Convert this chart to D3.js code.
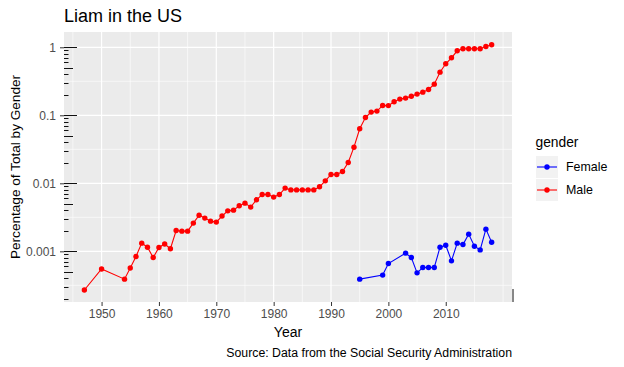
<!DOCTYPE html>
<html>
<head>
<meta charset="utf-8">
<script src="https://cdn.jsdelivr.net/npm/d3@7"></script>
<style>
  html, body { margin: 0; padding: 0; background: #fff; }
  svg { display: block; font-family: "Liberation Sans", Arial, sans-serif; }
</style>
</head>
<body>
<svg id="chart" width="624" height="367"></svg>
<script>
// ---- data ----
const maleYears = [1947,1950,1954,1955,1956,1957,1958,1959,1960,1961,1962,1963,1964,1965,1966,1967,1968,1969,1970,1971,1972,1973,1974,1975,1976,1977,1978,1979,1980,1981,1982,1983,1984,1985,1986,1987,1988,1989,1990,1991,1992,1993,1994,1995,1996,1997,1998,1999,2000,2001,2002,2003,2004,2005,2006,2007,2008,2009,2010,2011,2012,2013,2014,2015,2016,2017,2018];
const maleValues = [0.00027,0.00055,0.00039,0.00057,0.00084,0.00132,0.00115,0.00081,0.00114,0.00128,0.00109,0.00202,0.00198,0.00198,0.0026,0.0034,0.00308,0.00278,0.00269,0.0033,0.00394,0.00403,0.00467,0.00511,0.00447,0.00572,0.00684,0.00684,0.00627,0.00684,0.0085,0.0080,0.0080,0.0080,0.0080,0.0080,0.00889,0.01088,0.0135,0.0135,0.0149,0.0202,0.034,0.0633,0.0929,0.1114,0.1153,0.1394,0.139,0.158,0.173,0.179,0.191,0.205,0.219,0.24,0.287,0.431,0.572,0.701,0.889,0.95,0.95,0.95,0.95,1.03,1.09];
const femaleYears = [1995,1999,2000,2003,2004,2005,2006,2007,2008,2009,2010,2011,2012,2013,2014,2015,2016,2017,2018];
const femaleValues = [0.00039,0.000447,0.000662,0.00094,0.00081,0.000483,0.000578,0.000578,0.000578,0.00115,0.00123,0.000725,0.00132,0.00126,0.00179,0.00119,0.00105,0.00212,0.00136];
const genders = ["Female", "Male"];
const genderColors = ["#0000FF", "#FF0000"];
const xTicks = [1950,1960,1970,1980,1990,2000,2010];
const xMinor = [1945,1955,1965,1975,1985,1995,2005,2015,2020];
const yTicks = [1, 0.1, 0.01, 0.001];
const yTickLabels = ["1", "0.1", "0.01", "0.001"];
const yMinor = [Math.pow(10,-0.5), Math.pow(10,-1.5), Math.pow(10,-2.5), Math.pow(10,-3.5)];
const titleText = "Liam in the US";
const xTitle = "Year";
const yTitle = "Percentage of Total by Gender";
const captionText = "Source: Data from the Social Security Administration";
const legendTitle = "gender";

// ---- layout ----
const P = {l: 64, r: 512, t: 32, b: 302};
const svg = d3.select("#chart");

const x = d3.scaleLinear().domain([1943.45, 2021.55]).range([P.l, P.r]);
const y = d3.scaleLog().domain([Math.pow(10,-3.745), Math.pow(10,0.225)]).range([P.b, P.t]);

// panel background
svg.append("rect").attr("x", P.l).attr("y", P.t).attr("width", P.r - P.l).attr("height", P.b - P.t).attr("fill", "#EBEBEB");

const grid = svg.append("g");
// minor grid
grid.selectAll(".xm").data(xMinor).enter().append("line")
  .attr("x1", d => x(d)).attr("x2", d => x(d)).attr("y1", P.t).attr("y2", P.b)
  .attr("stroke", "#fff").attr("stroke-width", 0.6);
grid.selectAll(".ym").data(yMinor).enter().append("line")
  .attr("y1", d => y(d)).attr("y2", d => y(d)).attr("x1", P.l).attr("x2", P.r)
  .attr("stroke", "#fff").attr("stroke-width", 0.6);
// major grid
grid.selectAll(".xM").data(xTicks).enter().append("line")
  .attr("x1", d => x(d)).attr("x2", d => x(d)).attr("y1", P.t).attr("y2", P.b)
  .attr("stroke", "#fff").attr("stroke-width", 1.2);
grid.selectAll(".yM").data(yTicks).enter().append("line")
  .attr("y1", d => y(d)).attr("y2", d => y(d)).attr("x1", P.l).attr("x2", P.r)
  .attr("stroke", "#fff").attr("stroke-width", 1.2);

// log ticks on left side
const logTicks = [];
for (let e = -4; e <= 0; e++) {
  for (let k = 1; k <= 9; k++) {
    const v = k * Math.pow(10, e);
    const len = k === 1 ? 13 : (k === 5 ? 9 : 4.5);
    logTicks.push({v, len});
  }
}
const ltG = svg.append("g");
ltG.selectAll("line").data(logTicks.filter(d => y(d.v) >= P.t && y(d.v) <= P.b)).enter().append("line")
  .attr("x1", P.l).attr("x2", d => P.l + d.len)
  .attr("y1", d => Math.round(y(d.v)) + 0.5).attr("y2", d => Math.round(y(d.v)) + 0.5)
  .attr("stroke", "#111").attr("stroke-width", 1);
// stray tick at bottom right
svg.append("line").attr("x1", x(2021.55) + 1).attr("x2", x(2021.55) + 1).attr("y1", P.b - 13).attr("y2", P.b)
  .attr("stroke", "#111").attr("stroke-width", 1);

// axes
const xAxis = svg.append("g").attr("transform", `translate(0,${P.b})`)
  .call(d3.axisBottom(x).tickValues(xTicks).tickFormat(d3.format("d")).tickSize(4).tickPadding(3));
const yAxis = svg.append("g").attr("transform", `translate(${P.l},0)`)
  .call(d3.axisLeft(y).tickValues(yTicks).tickFormat((d, i) => yTickLabels[i]).tickSize(4).tickPadding(4));
[xAxis, yAxis].forEach(a => {
  a.select(".domain").remove();
  a.selectAll(".tick line").attr("stroke", "#333333").attr("stroke-width", 1);
  a.selectAll(".tick text").attr("fill", "#4D4D4D").style("font-size", "12px")
    .style("font-family", '"Liberation Sans", Arial, sans-serif');
});
xAxis.selectAll(".tick text").attr("dy", "0.71em");

// series
const series = [
  {name: "Female", years: femaleYears, values: femaleValues, color: genderColors[0]},
  {name: "Male", years: maleYears, values: maleValues, color: genderColors[1]}
];
const line = d3.line().x(d => x(d[0])).y(d => y(d[1]));
series.forEach(s => {
  const pts = s.years.map((yr, i) => [yr, s.values[i]]);
  svg.append("path").datum(pts).attr("d", line).attr("fill", "none")
    .attr("stroke", s.color).attr("stroke-width", 1.1);
  svg.append("g").selectAll("circle").data(pts).enter().append("circle")
    .attr("cx", d => x(d[0])).attr("cy", d => y(d[1])).attr("r", 2.7).attr("fill", s.color);
});

// titles
svg.append("text").attr("x", P.l).attr("y", 21.5).text(titleText)
  .style("font-size", "18px").attr("fill", "#000");
svg.append("text").attr("x", (P.l + P.r) / 2).attr("y", 337).attr("text-anchor", "middle")
  .text(xTitle).style("font-size", "14px").attr("fill", "#000");
svg.append("text").attr("transform", `translate(20,${(P.t + P.b) / 2}) rotate(-90)`)
  .attr("text-anchor", "middle").text(yTitle).style("font-size", "13.6px").attr("fill", "#000");
svg.append("text").attr("x", P.r).attr("y", 356.5).attr("text-anchor", "end")
  .text(captionText).style("font-size", "12.3px").attr("fill", "#000");

// legend
const lg = svg.append("g");
lg.append("text").attr("x", 535.5).attr("y", 146.5).text(legendTitle)
  .style("font-size", "13.8px").attr("fill", "#000");
const keyY = [155.5, 178.5];
genders.forEach((g, i) => {
  const ky = keyY[i];
  lg.append("rect").attr("x", 535.5).attr("y", ky).attr("width", 23).attr("height", 23)
    .attr("fill", "#F2F2F2").attr("stroke", "#fff").attr("stroke-width", 1);
  lg.append("line").attr("x1", 537).attr("x2", 557).attr("y1", ky + 11.5).attr("y2", ky + 11.5)
    .attr("stroke", genderColors[i]).attr("stroke-width", 1.1);
  lg.append("circle").attr("cx", 547).attr("cy", ky + 11.5).attr("r", 2.7).attr("fill", genderColors[i]);
  lg.append("text").attr("x", 566).attr("y", ky + 11.5).attr("dy", "0.36em").text(g)
    .style("font-size", "12.4px").attr("fill", "#000");
});
</script>
</body>
</html>
